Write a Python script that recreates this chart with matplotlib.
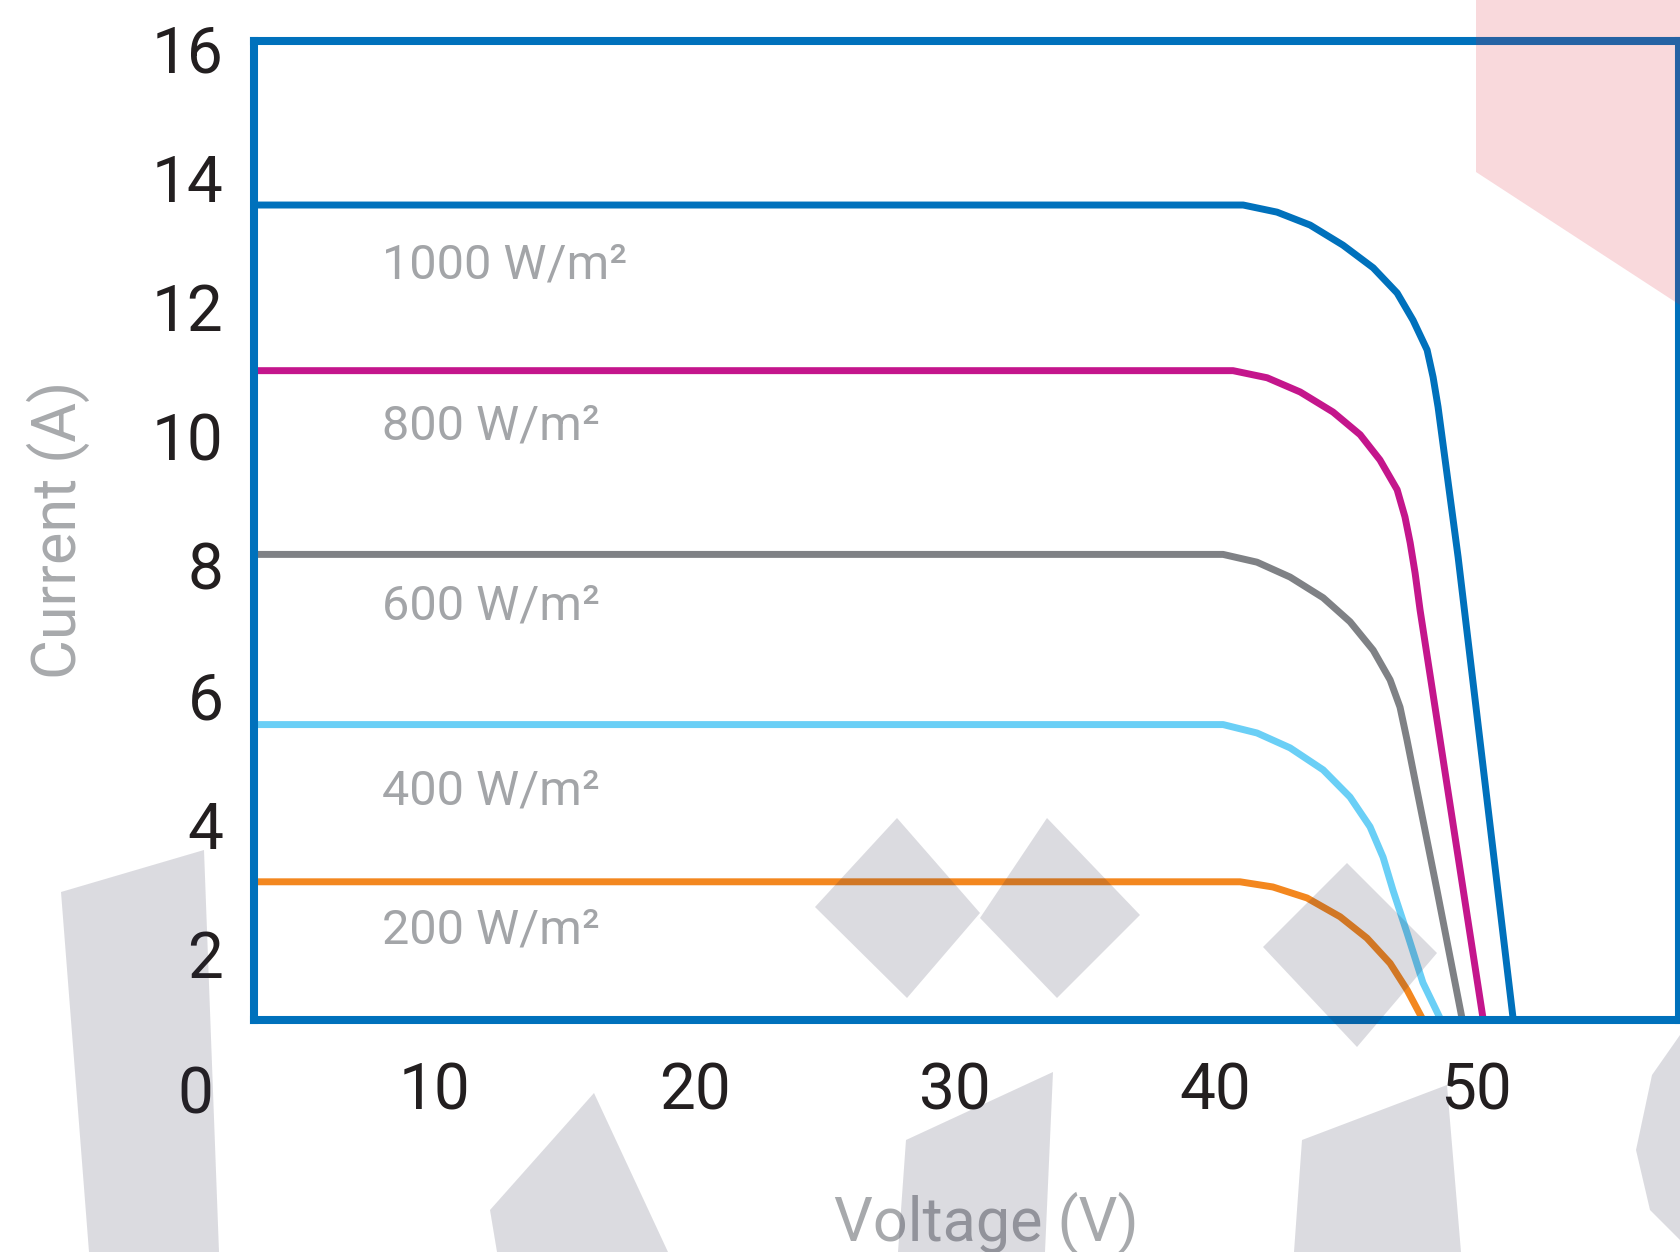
import numpy as np
import matplotlib.pyplot as plt
from matplotlib.patches import Polygon

plt.rcParams['font.family'] = ['Roboto', 'DejaVu Sans']

# I-V curves (voltage in V, current in A)
v_1000 = [3.1, 41.06, 42.36, 43.63, 44.89, 46.05, 46.97, 47.58, 48.12, 48.35, 48.54, 49.31, 51.42]
i_1000 = [13.57, 13.57, 13.46, 13.26, 12.95, 12.60, 12.21, 11.79, 11.33, 10.91, 10.45, 8.13, 1.0]

v_800 = [3.1, 40.67, 41.98, 43.25, 44.51, 45.55, 46.31, 46.97, 47.27, 47.47, 47.66, 47.85, 50.27]
i_800 = [11.01, 11.01, 10.90, 10.68, 10.37, 10.02, 9.63, 9.17, 8.75, 8.35, 7.88, 7.31, 0.99]

v_600 = [3.1, 40.29, 41.59, 42.86, 44.13, 45.16, 46.05, 46.70, 47.08, 47.35, 47.73, 48.50, 49.46]
i_600 = [8.17, 8.17, 8.05, 7.82, 7.50, 7.13, 6.69, 6.23, 5.81, 5.30, 4.53, 2.98, 1.0]

v_400 = [3.1, 40.29, 41.59, 42.86, 44.13, 45.16, 45.93, 46.43, 46.81, 47.35, 47.96, 48.62]
i_400 = [5.54, 5.54, 5.41, 5.18, 4.84, 4.42, 3.96, 3.49, 2.98, 2.32, 1.55, 1.0]

v_200 = [3.1, 40.94, 42.20, 43.51, 44.78, 45.81, 46.70, 47.35, 47.93]
i_200 = [3.11, 3.11, 3.03, 2.86, 2.57, 2.24, 1.85, 1.44, 1.0]

labels = ["1000 W/m²", "800 W/m²", "600 W/m²", "400 W/m²", "200 W/m²"]
label_y = [12.43, 9.95, 7.16, 4.31, 2.15]
colors = ["#0071bc", "#c4168c", "#7f8185", "#6acff6", "#f3871f"]

x_ticks = [10, 20, 30, 40, 50]
y_ticks = [2, 4, 6, 8, 10, 12, 14, 16]

W, H = 1680, 1252
fig = plt.figure(figsize=(W / 100, H / 100), dpi=100)
ax = fig.add_axes([254 / W, 1 - 1020 / H, (1678.5 - 254) / W, (1020 - 41) / H])

curves = [(v_1000, i_1000), (v_800, i_800), (v_600, i_600), (v_400, i_400), (v_200, i_200)]
for (v, i), c in zip(curves, colors):
    ax.plot(v, i, color=c, lw=5.0, solid_joinstyle='round', solid_capstyle='butt')

# irradiance labels
for txt, y in zip(labels, label_y):
    ax.text(8.0, y, txt, color="#a3a5a8", fontsize=35, va='baseline', ha='left')

ax.set_xlim(3.09, 57.77)
ax.set_ylim(0.974, 16.105)

# blue frame
for s in ax.spines.values():
    s.set_color("#0071bc")
    s.set_linewidth(5.8)

ax.set_xticks(x_ticks)
ax.set_yticks(y_ticks)
ax.set_xticklabels([str(t) for t in x_ticks])
ax.set_yticklabels([str(t) for t in y_ticks])
ax.tick_params(axis='both', length=0, labelsize=46, labelcolor="#231f20")
ax.tick_params(axis='x', pad=29)
ax.tick_params(axis='y', pad=22)
# shared origin label in the corner
ax.annotate("0", xy=(0, 0), xytext=(3, -9), textcoords='offset points', fontsize=46,
            color="#231f20", ha='left', va='center', annotation_clip=False)

ax.text(0.514, -0.2257, "Voltage (V)", transform=ax.transAxes, fontsize=44,
        color="#a7a9ac", ha='center', va='baseline')
ax.text(-0.125, 0.5005, "Current (A)", transform=ax.transAxes, fontsize=44,
        color="#a7a9ac", ha='center', va='baseline', rotation=90, rotation_mode='anchor')

# faint watermark shapes laid over the picture (pixel positions, y from top)
gray_shapes = [
    [(61, 892), (204, 850), (219, 1252), (89, 1252)],
    [(594, 1093), (490, 1210), (497, 1252), (668, 1252)],
    [(897, 818), (980, 913), (907, 998), (815, 907)],
    [(1047, 818), (1140, 915), (1057, 998), (980, 918)],
    [(1347, 863), (1437, 953), (1357, 1047), (1263, 947)],
    [(1053, 1072), (906, 1140), (898, 1252), (1045, 1252)],
    [(1447, 1085), (1302, 1140), (1294, 1252), (1461, 1252)],
    [(1680, 1035), (1652, 1075), (1636, 1150), (1650, 1210), (1680, 1240)],
]
for pts in gray_shapes:
    xy = [(x / W, 1 - y / H) for x, y in pts]
    fig.patches.append(Polygon(xy, closed=True, transform=fig.transFigure,
                               facecolor="#282846", alpha=0.165, edgecolor='none', zorder=10))
pink = [(1476, 0), (1476, 172), (1680, 305), (1680, 0)]
fig.patches.append(Polygon([(x / W, 1 - y / H) for x, y in pink], closed=True,
                           transform=fig.transFigure, facecolor="#dc1e32", alpha=0.17,
                           edgecolor='none', zorder=10))

fig.savefig("out.png", dpi=100)
